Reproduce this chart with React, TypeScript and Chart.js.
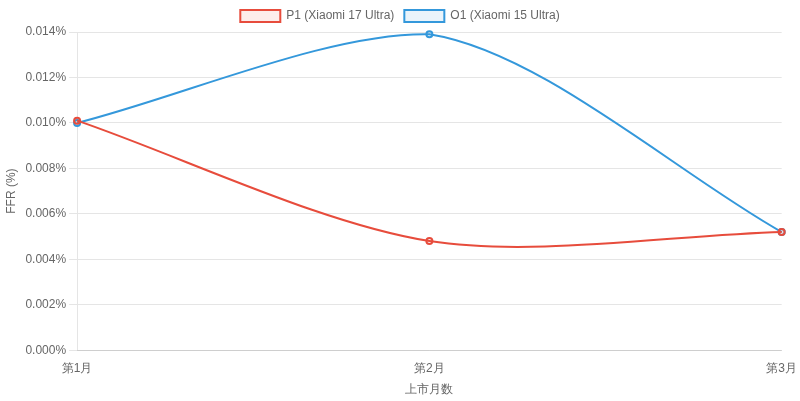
import { useEffect, useRef } from 'react'
import { Chart, registerables } from 'chart.js'

Chart.register(...registerables)

const months = ['第1月', '第2月', '第3月']
const p1Values = [0.0101, 0.0048, 0.0052]
const o1Values = [0.01, 0.0139, 0.0052]

export default function App() {
  const canvasRef = useRef<HTMLCanvasElement>(null)
  const chartRef = useRef<Chart | null>(null)

  useEffect(() => {
    document.body.style.margin = '0'
    if (!canvasRef.current) return
    if (chartRef.current) chartRef.current.destroy()
    chartRef.current = new Chart(canvasRef.current, {
      type: 'line',
      data: {
        labels: months,
        datasets: [
          {
            label: 'P1 (Xiaomi 17 Ultra)',
            data: p1Values,
            borderColor: '#e74c3c',
            backgroundColor: 'rgba(231, 76, 60, 0.1)',
            borderWidth: 2,
            pointRadius: 3,
            tension: 0.3,
            fill: false,
            clip: false,
          },
          {
            label: 'O1 (Xiaomi 15 Ultra)',
            data: o1Values,
            borderColor: '#3498db',
            backgroundColor: 'rgba(52, 152, 219, 0.1)',
            borderWidth: 2,
            pointRadius: 3,
            tension: 0.3,
            fill: false,
            clip: false,
          },
        ],
      },
      options: {
        responsive: true,
        maintainAspectRatio: false,
        animation: false,
        plugins: {
          legend: { position: 'top' },
        },
        scales: {
          x: {
            title: { display: true, text: '上市月数' },
            grid: { display: false },
          },
          y: {
            beginAtZero: true,
            max: 0.014,
            title: { display: true, text: 'FFR (%)' },
            ticks: {
              stepSize: 0.002,
              callback: (v) => Number(v).toFixed(3) + '%',
            },
          },
        },
      },
    })
    return () => { if (chartRef.current) chartRef.current.destroy() }
  }, [])

  return (
    <div style={{ width: 800, height: 401, position: 'relative' }}>
      <canvas ref={canvasRef} />
    </div>
  )
}
